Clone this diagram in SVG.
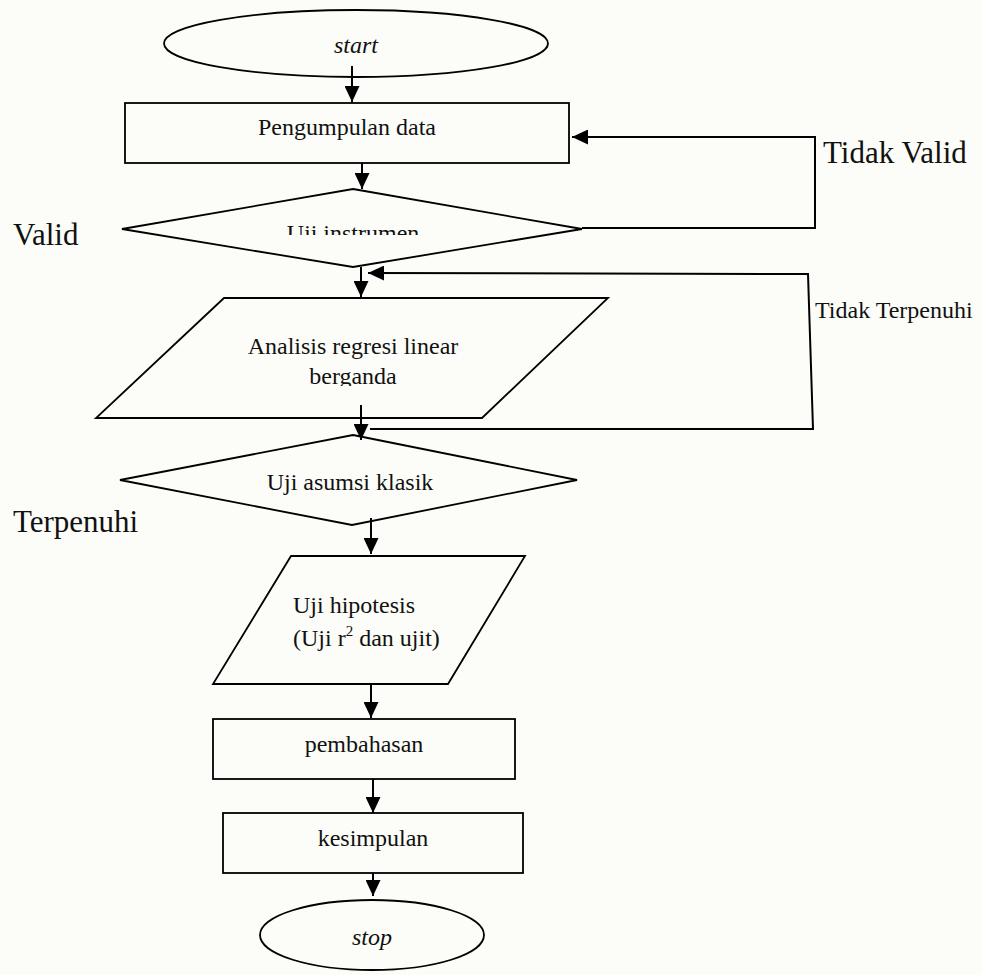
<svg xmlns="http://www.w3.org/2000/svg" width="982" height="975" viewBox="0 0 982 975">
<defs>
<style>
.shape{fill:none;stroke:#000;stroke-width:1.8}
.conn{fill:none;stroke:#000;stroke-width:2}
.t{font-family:"Liberation Serif","Times New Roman",serif;font-size:24px;fill:#111}
.ti{font-family:"Liberation Serif","Times New Roman",serif;font-size:24px;font-style:italic;fill:#111}
.lbl{font-family:"Liberation Serif","Times New Roman",serif;font-size:31px;fill:#111}
.mid{text-anchor:middle}
</style>
<marker id="ah" viewBox="0 0 16 15" refX="16" refY="7.5" markerWidth="16" markerHeight="15" markerUnits="userSpaceOnUse" orient="auto">
<path d="M0,0 L16,7.5 L0,15 Z" fill="#000"/>
</marker>
<clipPath id="clipUji"><rect x="100" y="180" width="500" height="55"/></clipPath>
<clipPath id="clipAn"><rect x="90" y="295" width="520" height="91"/></clipPath>
</defs>
<rect x="0" y="0" width="982" height="975" fill="#fcfdf8"/>

<g id="start">
<ellipse class="shape" cx="356" cy="43.5" rx="192" ry="33.5"/>
<text class="ti mid" x="356" y="53">start</text>
</g>
<g id="pengumpulan">
<rect class="shape" x="125" y="103" width="444" height="60"/>
<text class="t mid" x="347" y="135">Pengumpulan data</text>
</g>
<g id="uji-instrumen">
<polygon class="shape" points="353,189 582,229 353,267 122,229"/>
<text class="t mid" x="353" y="241" clip-path="url(#clipUji)">Uji instrumen</text>
</g>
<g id="analisis">
<polygon class="shape" points="224,298 608,298 482,418 96,418"/>
<text class="t mid" x="353" y="354">Analisis regresi linear</text>
<text class="t mid" x="353" y="384" clip-path="url(#clipAn)">berganda</text>
</g>
<g id="uji-asumsi">
<polygon class="shape" points="353,435 577,480 352,525 120,480"/>
<text class="t mid" x="350" y="490">Uji asumsi klasik</text>
</g>
<g id="uji-hipotesis">
<polygon class="shape" points="291,556 525,556 448,684 213,684"/>
<text class="t" x="293" y="613">Uji hipotesis</text>
<text class="t" x="293" y="646">(Uji r<tspan font-size="15" dy="-10">2</tspan><tspan dy="10"> dan ujit)</tspan></text>
</g>
<g id="pembahasan">
<rect class="shape" x="213" y="719" width="302" height="60"/>
<text class="t mid" x="364" y="752">pembahasan</text>
</g>
<g id="kesimpulan">
<rect class="shape" x="223" y="813" width="300" height="60"/>
<text class="t mid" x="373" y="846">kesimpulan</text>
</g>
<g id="stop">
<ellipse class="shape" cx="372" cy="935" rx="112" ry="35"/>
<text class="ti mid" x="372" y="945">stop</text>
</g>

<g id="connectors">
<line class="conn" x1="352" y1="66" x2="352" y2="102" marker-end="url(#ah)"/>
<line class="conn" x1="362" y1="163" x2="362" y2="189" marker-end="url(#ah)"/>
<line class="conn" x1="361" y1="267" x2="361" y2="297" marker-end="url(#ah)"/>
<line class="conn" x1="361" y1="405" x2="361" y2="440" marker-end="url(#ah)"/>
<line class="conn" x1="371" y1="518" x2="371" y2="554" marker-end="url(#ah)"/>
<line class="conn" x1="371" y1="684" x2="371" y2="718" marker-end="url(#ah)"/>
<line class="conn" x1="373" y1="779" x2="373" y2="813" marker-end="url(#ah)"/>
<line class="conn" x1="373" y1="873" x2="373" y2="896" marker-end="url(#ah)"/>
<polyline class="conn" points="582,228 815,228 815,137 572,137" marker-end="url(#ah)"/>
<polyline class="conn" points="370,429 813,429 808,274 368,273" marker-end="url(#ah)"/>
</g>

<g id="labels">
<text class="lbl" x="823" y="163">Tidak Valid</text>
<text class="lbl" x="13" y="245">Valid</text>
<text class="t" x="815" y="318">Tidak Terpenuhi</text>
<text class="lbl" x="13" y="532">Terpenuhi</text>
</g>
</svg>
